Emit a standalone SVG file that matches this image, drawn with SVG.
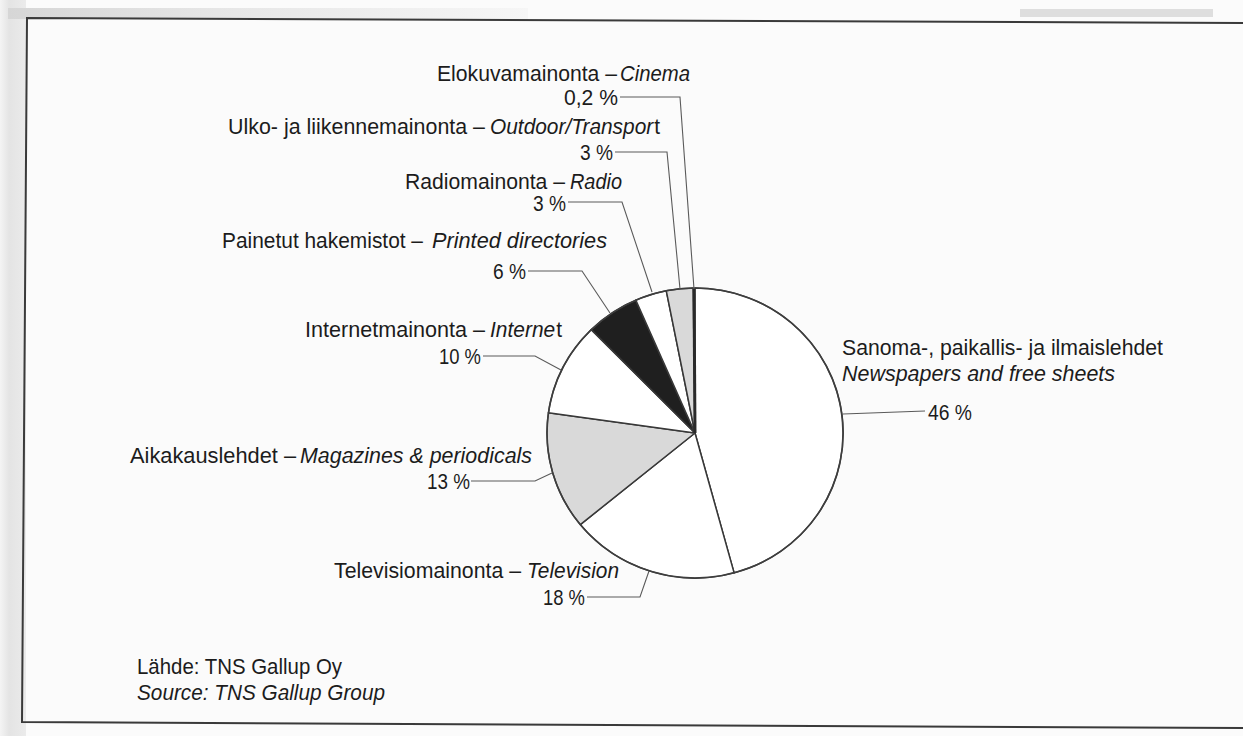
<svg xmlns="http://www.w3.org/2000/svg" width="1243" height="736" viewBox="0 0 1243 736">
<defs>
<linearGradient id="lm" x1="0" y1="0" x2="1" y2="0">
<stop offset="0" stop-color="#f4f4f4"/><stop offset="0.35" stop-color="#e4e4e4"/><stop offset="1" stop-color="#ebebeb"/>
</linearGradient>
<linearGradient id="tm" x1="0" y1="0" x2="1" y2="0">
<stop offset="0" stop-color="#d6d6d6"/><stop offset="0.4" stop-color="#e6e6e6"/><stop offset="1" stop-color="#f6f6f6"/>
</linearGradient>
<style>
text{font-family:"Liberation Sans Narrow","Liberation Sans",Arial,sans-serif;font-size:21.5px;fill:#1c1c1c}
.it{font-style:italic}
.up{font-style:normal}
.sl{stroke:#383838;stroke-width:1.5;stroke-linejoin:round}
.w{fill:#ffffff}
.g{fill:#d9d9d9}
.k{fill:#1f1f1f}
.ld{fill:none;stroke:#5a5a5a;stroke-width:1.1}
.fr{fill:none;stroke:#3a3a3a;stroke-width:2}
</style>
</defs>
<rect width="1243" height="736" fill="#fbfbfb"/>
<rect x="0" y="0" width="26" height="736" fill="url(#lm)"/>
<rect x="8" y="8" width="520" height="11" fill="url(#tm)"/>
<rect x="1020" y="9" width="193" height="8" fill="#dedede"/>
<g id="frame">
<polyline class="fr" points="1243,23 27,18 22,722 1243,728"/>
</g>
<g id="pie">
<g id="slice-news"><path class="sl w" d="M695,433 L695,288 A148,145 0 0 1 734.1,572.9 Z"/></g>
<g id="slice-tv"><path class="sl w" d="M695,433 L734.1,572.9 A148,145 0 0 1 580.3,524.6 Z"/></g>
<g id="slice-mag"><path class="sl g" d="M695,433 L580.3,524.6 A148,145 0 0 1 548.4,412.8 Z"/></g>
<g id="slice-int"><path class="sl w" d="M695,433 L548.4,412.8 A148,145 0 0 1 591.3,329.6 Z"/></g>
<g id="slice-print"><path class="sl k" d="M695,433 L591.3,329.6 A148,145 0 0 1 635.8,300.1 Z"/></g>
<g id="slice-radio"><path class="sl w" d="M695,433 L635.8,300.1 A148,145 0 0 1 666.3,290.8 Z"/></g>
<g id="slice-outdoor"><path class="sl g" d="M695,433 L666.3,290.8 A148,145 0 0 1 693.2,288 Z"/></g>
<g id="slice-cinema"><path d="M695,433 L694,288" stroke="#2a2a2a" stroke-width="3"/></g>
<ellipse cx="695" cy="433" rx="148" ry="145" fill="none" stroke="#3e3e3e" stroke-width="1.5"/>
</g>
<g id="leaders">
<polyline class="ld" points="620,97 680,97 694,289"/>
<polyline class="ld" points="615,152 667,152 680,289"/>
<polyline class="ld" points="568,202 622,202 652,292"/>
<polyline class="ld" points="528,271 582,271 610,313"/>
<polyline class="ld" points="483,356 535,356 561,370"/>
<polyline class="ld" points="471,481 535,481 552,473"/>
<polyline class="ld" points="587,597 640,597 649,571"/>
<polyline class="ld" points="843,414 925,411"/>
</g>
<g id="label-cinema">
<text x="437" y="81" textLength="180" lengthAdjust="spacingAndGlyphs">Elokuvamainonta –</text>
<text class="it" x="620" y="81" textLength="70" lengthAdjust="spacingAndGlyphs">Cinema</text>
<text x="564" y="105" textLength="54" lengthAdjust="spacingAndGlyphs">0,2 %</text>
</g>
<g id="label-outdoor">
<text x="228" y="134" textLength="257" lengthAdjust="spacingAndGlyphs">Ulko- ja liikennemainonta –</text>
<text x="490" y="134" textLength="170" lengthAdjust="spacingAndGlyphs"><tspan class="it">Outdoor/Transpor</tspan><tspan class="up" dx="1">t</tspan></text>
<text x="580" y="160" textLength="33" lengthAdjust="spacingAndGlyphs">3 %</text>
</g>
<g id="label-radio">
<text x="405" y="189" textLength="160" lengthAdjust="spacingAndGlyphs">Radiomainonta –</text>
<text class="it" x="570" y="189" textLength="52" lengthAdjust="spacingAndGlyphs">Radio</text>
<text x="533" y="211" textLength="33" lengthAdjust="spacingAndGlyphs">3 %</text>
</g>
<g id="label-print">
<text x="222" y="248" textLength="201" lengthAdjust="spacingAndGlyphs">Painetut hakemistot –</text>
<text class="it" x="432" y="248" textLength="175" lengthAdjust="spacingAndGlyphs">Printed directories</text>
<text x="493" y="279" textLength="33" lengthAdjust="spacingAndGlyphs">6 %</text>
</g>
<g id="label-int">
<text x="305" y="337" textLength="180" lengthAdjust="spacingAndGlyphs">Internetmainonta –</text>
<text x="490" y="337" textLength="72" lengthAdjust="spacingAndGlyphs"><tspan class="it">Interne</tspan><tspan class="up" dx="1">t</tspan></text>
<text x="439" y="364" textLength="42" lengthAdjust="spacingAndGlyphs">10 %</text>
</g>
<g id="label-news">
<text x="842" y="355" textLength="321" lengthAdjust="spacingAndGlyphs">Sanoma-, paikallis- ja ilmaislehdet</text>
<text class="it" x="842" y="381" textLength="273" lengthAdjust="spacingAndGlyphs">Newspapers and free sheets</text>
<text x="928" y="420" textLength="44" lengthAdjust="spacingAndGlyphs">46 %</text>
</g>
<g id="label-mag">
<text x="130" y="463" textLength="166" lengthAdjust="spacingAndGlyphs">Aikakauslehdet –</text>
<text class="it" x="300" y="463" textLength="232" lengthAdjust="spacingAndGlyphs">Magazines &amp; periodicals</text>
<text x="427" y="489" textLength="43" lengthAdjust="spacingAndGlyphs">13 %</text>
</g>
<g id="label-tv">
<text x="334" y="578" textLength="187" lengthAdjust="spacingAndGlyphs">Televisiomainonta –</text>
<text class="it" x="527" y="578" textLength="92" lengthAdjust="spacingAndGlyphs">Television</text>
<text x="543" y="605" textLength="42" lengthAdjust="spacingAndGlyphs">18 %</text>
</g>
<g id="source">
<text x="137" y="674" textLength="205" lengthAdjust="spacingAndGlyphs">Lähde: TNS Gallup Oy</text>
<text class="it" x="137" y="700" textLength="248" lengthAdjust="spacingAndGlyphs">Source: TNS Gallup Group</text>
</g>
</svg>
